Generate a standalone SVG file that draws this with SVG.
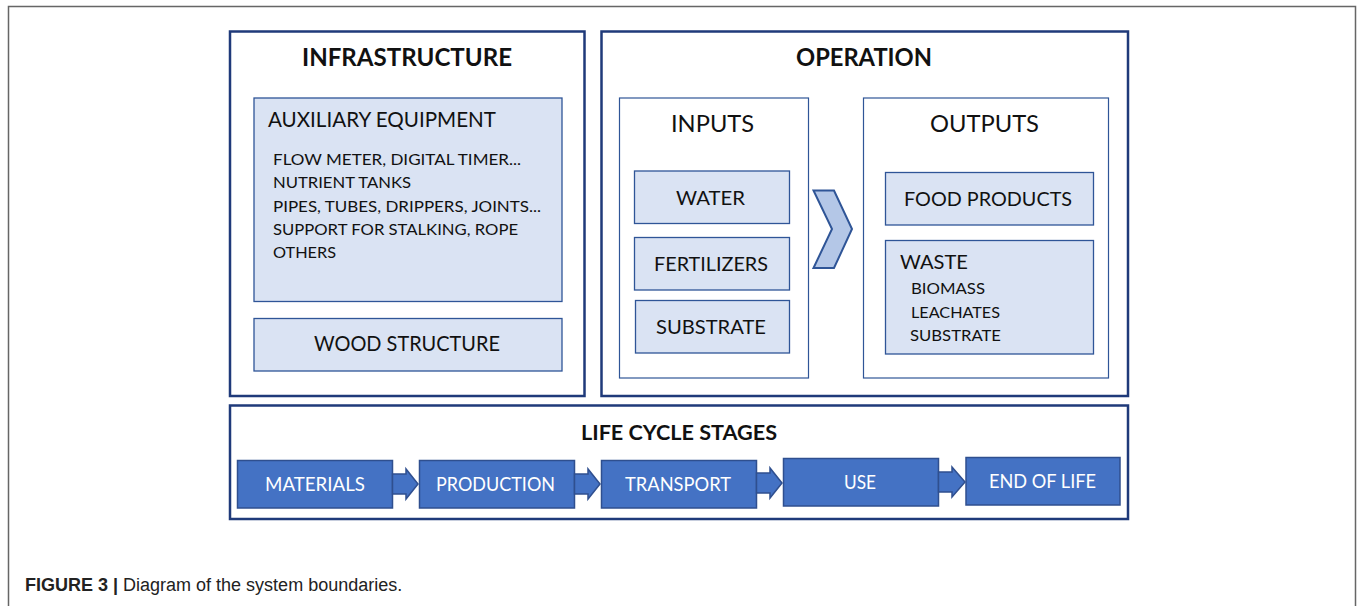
<svg xmlns="http://www.w3.org/2000/svg" width="1357" height="606" viewBox="0 0 1357 606">
<style>
.t{font-family:Lato,"Open Sans","Liberation Sans",sans-serif;fill:#111}
.b{font-weight:bold}
.outer{fill:#fff;stroke:#1f3a7a;stroke-width:2.5}
.inner{fill:#fff;stroke:#2f5597;stroke-width:1.2}
.lb{fill:#dae3f3;stroke:#2f5597;stroke-width:1.3}
.st{fill:#4472c4;stroke:#2f4f8f;stroke-width:1.5}
.sw{font-family:Lato,"Open Sans","Liberation Sans",sans-serif;fill:#fff;font-size:19px}
.cap{font-family:"Liberation Sans",Arial,sans-serif;font-size:18px;fill:#222}
</style>
<rect width="1357" height="606" fill="#fff"/>
<path d="M8.5 606 V6.5 H1355.5 V606" fill="none" stroke="#666" stroke-width="1.5"/>

<g id="infrastructure">
<rect class="outer" x="230" y="31.5" width="354.5" height="364.5"/>
<text class="t b" x="302" y="66" font-size="25" textLength="210" lengthAdjust="spacingAndGlyphs">INFRASTRUCTURE</text>
</g>
<g id="auxiliary-equipment">
<rect class="lb" x="254" y="98" width="308" height="203.5"/>
<text class="t" x="268" y="127" font-size="21" textLength="228" lengthAdjust="spacingAndGlyphs">AUXILIARY EQUIPMENT</text>
<text class="t" x="273" y="165" font-size="16" textLength="248" lengthAdjust="spacingAndGlyphs">FLOW METER, DIGITAL TIMER...</text>
<text class="t" x="273" y="188" font-size="16" textLength="138" lengthAdjust="spacingAndGlyphs">NUTRIENT TANKS</text>
<text class="t" x="273" y="211.5" font-size="16" textLength="268" lengthAdjust="spacingAndGlyphs">PIPES, TUBES, DRIPPERS, JOINTS...</text>
<text class="t" x="273" y="235" font-size="16" textLength="245" lengthAdjust="spacingAndGlyphs">SUPPORT FOR STALKING, ROPE</text>
<text class="t" x="273" y="258" font-size="16" textLength="63" lengthAdjust="spacingAndGlyphs">OTHERS</text>
</g>
<g id="wood-structure">
<rect class="lb" x="254" y="318.5" width="308" height="52.5"/>
<text class="t" x="314" y="350.5" font-size="21" textLength="186" lengthAdjust="spacingAndGlyphs">WOOD STRUCTURE</text>
</g>

<g id="operation">
<rect class="outer" x="601.5" y="31.5" width="526.5" height="364.5"/>
<text class="t b" x="796" y="66" font-size="25" textLength="136" lengthAdjust="spacingAndGlyphs">OPERATION</text>
</g>
<g id="inputs">
<rect class="inner" x="619.5" y="98" width="189" height="280"/>
<text class="t" x="671" y="132" font-size="24" textLength="83" lengthAdjust="spacingAndGlyphs">INPUTS</text>
</g>
<g id="water">
<rect class="lb" x="634.5" y="171" width="155" height="52.5"/>
<text class="t" x="676" y="205" font-size="20" textLength="69" lengthAdjust="spacingAndGlyphs">WATER</text>
</g>
<g id="fertilizers">
<rect class="lb" x="634.5" y="237.5" width="155" height="52.5"/>
<text class="t" x="654" y="271" font-size="20" textLength="114" lengthAdjust="spacingAndGlyphs">FERTILIZERS</text>
</g>
<g id="substrate-in">
<rect class="lb" x="635.5" y="300.5" width="154" height="52.5"/>
<text class="t" x="656" y="334" font-size="20" textLength="110" lengthAdjust="spacingAndGlyphs">SUBSTRATE</text>
</g>
<g id="outputs">
<rect class="inner" x="863.5" y="98" width="245" height="280"/>
<text class="t" x="930" y="132" font-size="24" textLength="109" lengthAdjust="spacingAndGlyphs">OUTPUTS</text>
</g>
<g id="food-products">
<rect class="lb" x="885.5" y="172.5" width="208" height="52.5"/>
<text class="t" x="904" y="206" font-size="20" textLength="168" lengthAdjust="spacingAndGlyphs">FOOD PRODUCTS</text>
</g>
<g id="waste">
<rect class="lb" x="885.5" y="240.5" width="208" height="113.5"/>
<text class="t" x="900" y="269" font-size="20" textLength="68" lengthAdjust="spacingAndGlyphs">WASTE</text>
<text class="t" x="911" y="294" font-size="15.5" textLength="74" lengthAdjust="spacingAndGlyphs">BIOMASS</text>
<text class="t" x="911" y="317.5" font-size="15.5" textLength="89" lengthAdjust="spacingAndGlyphs">LEACHATES</text>
<text class="t" x="910" y="340.5" font-size="15.5" textLength="91" lengthAdjust="spacingAndGlyphs">SUBSTRATE</text>
</g>

<g id="life-cycle-stages">
<rect class="outer" x="230" y="405.5" width="898" height="113.5"/>
<text class="t b" x="581" y="440" font-size="21" textLength="196" lengthAdjust="spacingAndGlyphs">LIFE CYCLE STAGES</text>
</g>
<g id="materials">
<rect class="st" x="237.5" y="460.5" width="155" height="47.5"/>
<text class="sw" x="265" y="491" textLength="100" lengthAdjust="spacingAndGlyphs">MATERIALS</text>
</g>
<g id="production">
<rect class="st" x="419.5" y="460.5" width="155" height="47.5"/>
<text class="sw" x="436" y="491" textLength="119" lengthAdjust="spacingAndGlyphs">PRODUCTION</text>
</g>
<g id="transport">
<rect class="st" x="601.5" y="460.5" width="155" height="47.5"/>
<text class="sw" x="625" y="491" textLength="106" lengthAdjust="spacingAndGlyphs">TRANSPORT</text>
</g>
<g id="use">
<rect class="st" x="783.5" y="458.5" width="155" height="47.5"/>
<text class="sw" x="844" y="489" textLength="32" lengthAdjust="spacingAndGlyphs">USE</text>
</g>
<g id="end-of-life">
<rect class="st" x="966" y="457.5" width="154" height="47.5"/>
<text class="sw" x="989" y="488" textLength="107" lengthAdjust="spacingAndGlyphs">END OF LIFE</text>
</g>

<g id="connectors">
<path d="M813.5 190.5 H834 L852 229 L834 268 H813.5 L832 229 Z" fill="#b4c7e7" stroke="#2f5597" stroke-width="2" stroke-linejoin="miter"/>
<path d="M392.5 474 H406 V469 L418 484 L406 499 V494 H392.5 Z" class="st"/>
<path d="M574.5 474 H588 V469 L600 484 L588 499 V494 H574.5 Z" class="st"/>
<path d="M756.5 473 H770 V468 L782 483 L770 498 V493 H756.5 Z" class="st"/>
<path d="M938.5 472 H952 V467 L965 482 L952 497 V492 H938.5 Z" class="st"/>
</g>

<text class="cap" x="25" y="591"><tspan font-weight="bold">FIGURE 3 |</tspan> Diagram of the system boundaries.</text>
</svg>
